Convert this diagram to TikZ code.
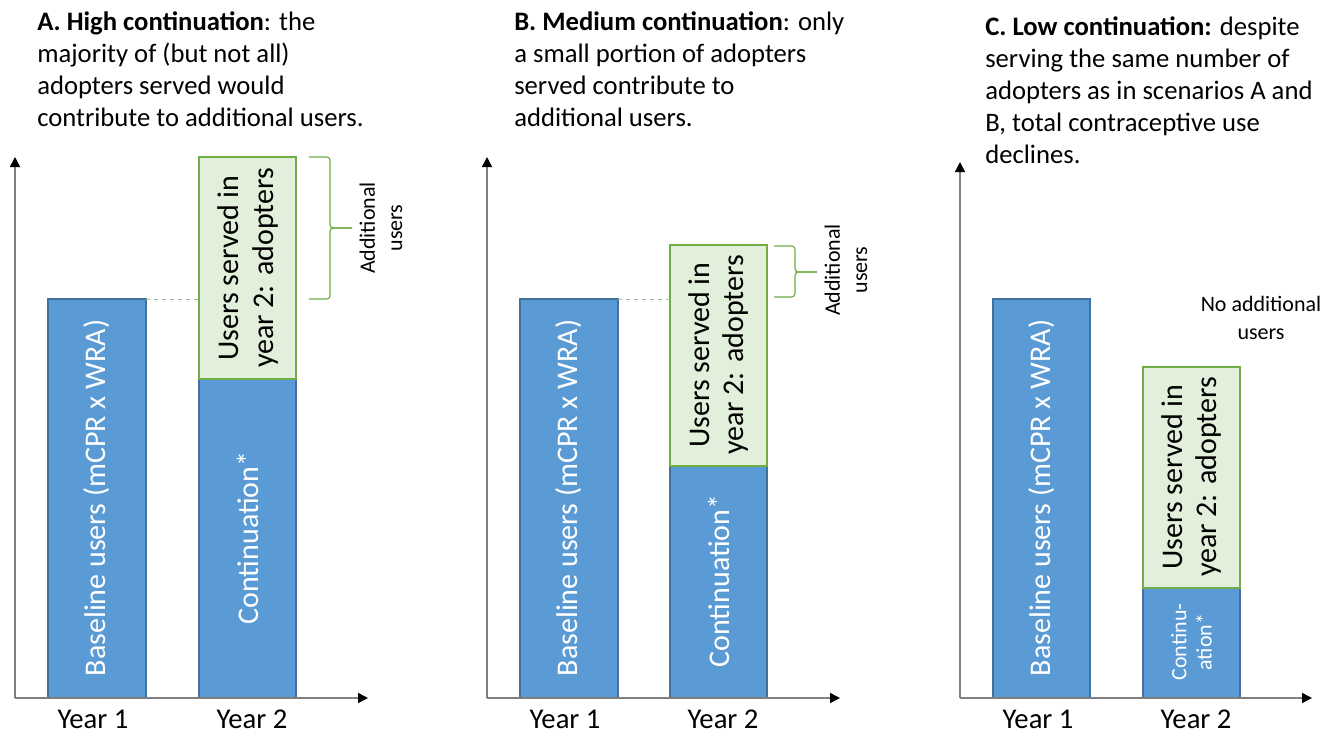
\documentclass[tikz,border=0pt]{standalone}
\usepackage{fontspec}
\setmainfont{Carlito}
\usetikzlibrary{arrows.meta}
\definecolor{barblue}{HTML}{5B9BD5}
\definecolor{barblueline}{HTML}{41719C}
\definecolor{bargreen}{HTML}{E2EFDA}
\definecolor{bargreenline}{HTML}{70AD47}
\definecolor{axisgray}{HTML}{7F7F7F}
\definecolor{guidecol}{HTML}{A5B99A}
\begin{document}
\begin{tikzpicture}[x=0.75pt,y=-0.75pt,
 axis/.style={draw=axisgray,line width=1.1pt,-{Triangle[width=7.5pt,length=7.5pt,color=black]}},
 bluebar/.style={fill=barblue,draw=barblueline,line width=0.8pt},
 greenbar/.style={fill=bargreen,draw=bargreenline,line width=1.1pt},
 bartext/.style={rotate=90,font=\fontsize{22.5}{26}\selectfont,align=center,inner sep=0pt},
 smallbartext/.style={rotate=90,font=\fontsize{16.5}{19}\selectfont,align=center,inner sep=0pt,text=white},
 titletext/.style={anchor=north west,align=left,font=\fontsize{20}{24}\selectfont,inner sep=0pt},
 yearlabel/.style={font=\fontsize{21.5}{26}\selectfont,inner sep=0pt},
 bracket/.style={draw=bargreenline,line width=0.9pt,rounded corners=2.5pt},
 guide/.style={draw=guidecol,dashed,line width=0.7pt},
 sidenote/.style={font=\fontsize{16.5}{20.5}\selectfont,align=center,inner sep=0pt}
]
\useasboundingbox (0,0) rectangle (1327,735);

% ---------------- Panel A ----------------
\node[titletext] (titleA) at (37,11) {\textbf{A. High continuation}: the\\majority of (but not all)\\adopters served would\\contribute to additional users.};
\coordinate (oA) at (15,698);
\coordinate (yA) at (15,157);
\coordinate (xA) at (368,698);
\fill[bluebar] (48,299) rectangle (146,698);
\fill[bluebar] (199,379) rectangle (296,698);
\fill[greenbar] (199,157) rectangle (296,379);
\draw[bluebar,fill=none] (48,299) rectangle (146,698);
\draw[bluebar,fill=none] (199,379) rectangle (296,698);
\draw[greenbar,fill=none] (199,157) rectangle (296,379);
\coordinate (gA1) at (146,299);
\coordinate (gA2) at (199,299);
\draw[guide] (gA1) -- (gA2);
\draw[axis] (oA) -- (yA);
\draw[axis] (oA) -- (xA);
\node[bartext,text=white] (baseA) at (97,498) {Baseline users (mCPR x WRA)};
\node[bartext] (adoptA) at (248,268) {Users served in\\year 2: adopters};
\node[bartext,text=white] (contA) at (248,538) {Continuation*};
\node[yearlabel] (y1A) at (93,719) {Year 1};
\node[yearlabel] (y2A) at (252,719) {Year 2};
\coordinate (bA1) at (309,157);
\coordinate (bA2) at (309,299);
\coordinate (bAm) at (330,228);
\coordinate (bAt) at (352,228);
\draw[bracket] (bA1) -| (bAm) -- (bAt);
\draw[bracket] (bA2) -| (bAm) -- (bAt);
\node[sidenote,rotate=90] (addA) at (381,228) {Additional\\users};

% ---------------- Panel B ----------------
\node[titletext] (titleB) at (514,11) {\textbf{B. Medium continuation}: only\\a small portion of adopters\\served contribute to\\additional users.};
\coordinate (oB) at (487,698);
\coordinate (yB) at (487,157);
\coordinate (xB) at (840,698);
\fill[bluebar] (520,299) rectangle (618,698);
\fill[bluebar] (670,466) rectangle (767,698);
\fill[greenbar] (670,245) rectangle (767,466);
\draw[bluebar,fill=none] (520,299) rectangle (618,698);
\draw[bluebar,fill=none] (670,466) rectangle (767,698);
\draw[greenbar,fill=none] (670,245) rectangle (767,466);
\coordinate (gB1) at (618,299);
\coordinate (gB2) at (670,299);
\draw[guide] (gB1) -- (gB2);
\draw[axis] (oB) -- (yB);
\draw[axis] (oB) -- (xB);
\node[bartext,text=white] (baseB) at (569,498) {Baseline users (mCPR x WRA)};
\node[bartext] (adoptB) at (718.5,355) {Users served in\\year 2: adopters};
\node[bartext,text=white] (contB) at (718.5,581) {Continuation*};
\node[yearlabel] (y1B) at (565,719) {Year 1};
\node[yearlabel] (y2B) at (723,719) {Year 2};
\coordinate (bB1) at (774,246);
\coordinate (bB2) at (774,297);
\coordinate (bBm) at (795,272);
\coordinate (bBt) at (817,272);
\draw[bracket] (bB1) -| (bBm) -- (bBt);
\draw[bracket] (bB2) -| (bBm) -- (bBt);
\node[sidenote,rotate=90] (addB) at (846,270) {Additional\\users};

% ---------------- Panel C ----------------
\node[titletext] (titleC) at (985,16) {\textbf{C. Low continuation:} despite\\serving the same number of\\adopters as in scenarios A and\\B, total contraceptive use\\declines.};
\coordinate (oC) at (960,698);
\coordinate (yC) at (960,162);
\coordinate (xC) at (1312,698);
\fill[bluebar] (993,299) rectangle (1090,698);
\fill[bluebar] (1143,588) rectangle (1240,698);
\fill[greenbar] (1143,367) rectangle (1240,588);
\draw[bluebar,fill=none] (993,299) rectangle (1090,698);
\draw[bluebar,fill=none] (1143,588) rectangle (1240,698);
\draw[greenbar,fill=none] (1143,367) rectangle (1240,588);
\draw[axis] (oC) -- (yC);
\draw[axis] (oC) -- (xC);
\node[bartext,text=white] (baseC) at (1041.5,498) {Baseline users (mCPR x WRA)};
\node[bartext] (adoptC) at (1191.5,477) {Users served in\\year 2: adopters};
\node[smallbartext] (contC) at (1191.5,642) {Continu-\\ation*};
\node[yearlabel] (y1C) at (1038,719) {Year 1};
\node[yearlabel] (y2C) at (1196,719) {Year 2};
\node[sidenote] (noaddC) at (1261,318) {No additional\\users};
\end{tikzpicture}
\end{document}
